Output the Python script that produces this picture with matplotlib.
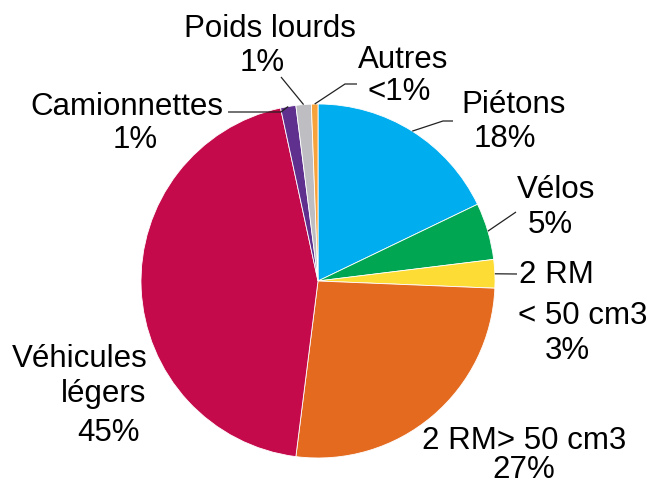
import matplotlib
matplotlib.use("Agg")
import matplotlib.pyplot as plt
import numpy as np

plt.rcParams['font.family'] = ['Liberation Sans', 'DejaVu Sans']

# ---- data ----
categories = ["Piétons", "Vélos", "2 RM < 50 cm3", "2 RM> 50 cm3",
              "Véhicules légers", "Camionnettes", "Poids lourds", "Autres"]
shares = [17.9, 5.2, 2.6, 26.4, 44.7, 1.4, 1.4, 0.6]
pct_labels = ["18%", "5%", "3%", "27%", "45%", "1%", "1%", "<1%"]
colors = ["#00ADEF", "#00A651", "#FDDC36", "#E46A1F",
          "#C40A4A", "#60308F", "#BEBEC2", "#F7A23A"]

# label text lines per category
label_lines = [
    ["Piétons", "18%"],
    ["Vélos", "5%"],
    ["2 RM", "< 50 cm3", "3%"],
    ["2 RM> 50 cm3\n27%"],
    ["Véhicules", "légers", "45%"],
    ["Camionnettes", "1%"],
    ["Poids lourds", "1%"],
    ["Autres", "<1%"],
]

# ---- layout (pixel coordinates, y from top) ----
W, H = 652, 486
CX, CY, R = 318, 281, 177
line_pos = [
    [(514, 113), (505, 147)],
    [(556, 198), (550, 233)],
    [(556, 283), (583, 324), (567, 359)],
    [(524, 478)],
    [(80, 367), (104, 402), (108, 441)],
    [(127, 115), (135, 148)],
    [(270, 37), (262, 71)],
    [(403, 68), (399, 100)],
]
# leader elbows (label side), None = no leader
leaders = [
    [(453, 121), (443, 121)],
    [(516, 212)],
    [(517, 274)],
    None,
    None,
    [(228, 112), (281, 112)],
    [(281, 77)],
    [(357, 84), (345, 84)],
]

fig = plt.figure(figsize=(W / 100, H / 100), dpi=100)
ax = fig.add_axes([0, 0, 1, 1])

wedges, _ = ax.pie(shares, colors=colors, startangle=90, counterclock=False,
                   center=(CX, H - CY), radius=R, frame=True,
                   wedgeprops=dict(edgecolor='white', linewidth=0.6))
ax.set_xlim(0, W)
ax.set_ylim(0, H)
ax.set_aspect('equal')
ax.set_axis_off()

for i, w in enumerate(wedges):
    for txt, (x, y) in zip(label_lines[i], line_pos[i]):
        ax.text(x, H - y, txt, ha='center', va='baseline', fontsize=22.5,
                color='black', multialignment='center', linespacing=0.95)
    if leaders[i] is not None:
        mid = np.deg2rad((w.theta1 + w.theta2) / 2)
        px = w.center[0] + w.r * np.cos(mid)
        py = w.center[1] + w.r * np.sin(mid)
        xs = [p[0] for p in leaders[i]] + [px]
        ys = [H - p[1] for p in leaders[i]] + [py]
        ax.plot(xs, ys, color='#222222', linewidth=0.9, solid_capstyle='butt')

fig.savefig("out.png", dpi=100)
